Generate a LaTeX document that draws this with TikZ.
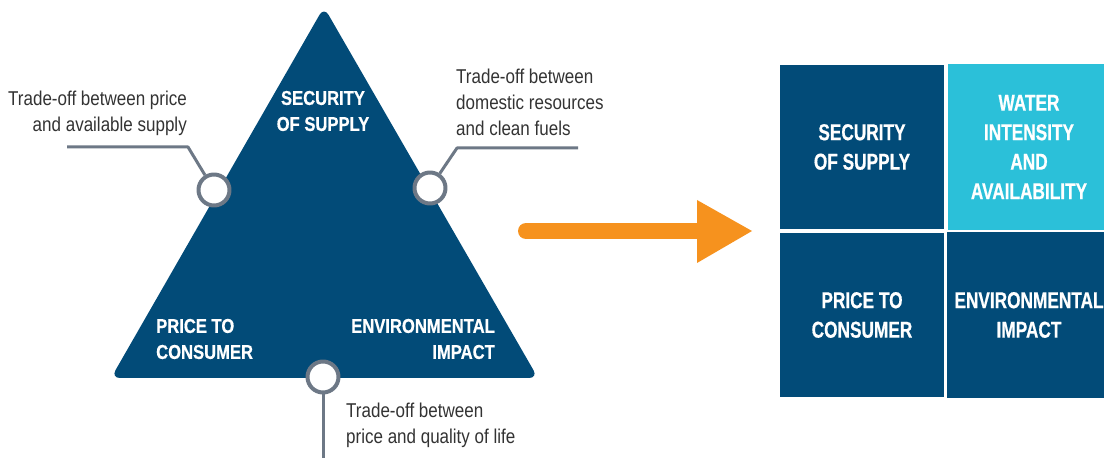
\documentclass[tikz,border=0pt]{standalone}
\usepackage{fontspec}
\setmainfont{Liberation Sans}[FakeStretch=0.85]
\newfontfamily\boldtri{Liberation Sans Bold}[FakeStretch=0.83,FakeBold=0.6]
\newfontfamily\boldbox{Liberation Sans Bold}[FakeStretch=0.75,FakeBold=0.6]
\definecolor{darkblue}{HTML}{024B78}
\definecolor{lightblue}{HTML}{2BC0D9}
\definecolor{ringgray}{HTML}{6D7886}
\definecolor{arroworange}{HTML}{F6921E}
\definecolor{labelgray}{HTML}{333333}
\tikzset{
  ring/.style={draw=ringgray,line width=4bp,fill=white,circle,minimum size=31bp,inner sep=0pt},
  leader/.style={draw=ringgray,line width=3bp},
  note/.style={text=labelgray,font=\fontsize{20bp}{26bp}\selectfont,inner sep=0pt},
  tritext/.style={text=white,font=\boldtri\fontsize{20bp}{26bp}\selectfont,inner sep=0pt},
  boxtext/.style={text=white,font=\boldbox\fontsize{23bp}{29.5bp}\selectfont,inner sep=0pt,align=center},
}
\begin{document}
\begin{tikzpicture}[>=latex,line join=bevel,]
    \useasboundingbox (0bp,0bp) rectangle (1104bp,458bp);
    %% triangle
    \fill [darkblue,rounded corners=9bp] (111bp,80bp) -- (324bp,451bp) -- (538bp,80bp) -- cycle;
    \node (sec) at (323bp,347bp) [tritext,align=center] {SECURITY\\OF SUPPLY};
    \node (pri) at (156bp,119bp) [tritext,align=left,anchor=west] {PRICE TO\\CONSUMER};
    \node (env) at (495bp,119bp) [tritext,align=right,anchor=east] {ENVIRONMENTAL\\IMPACT};
    %% trade-offs
    \coordinate (kL) at (188bp,311bp);
    \coordinate (eL) at (67bp,311bp);
    \coordinate (kR) at (457bp,310bp);
    \coordinate (eR) at (578bp,310bp);
    \coordinate (eB) at (323bp,0bp);
    \node (cL) at (214bp,268bp) [ring] {};
    \node (cR) at (430bp,270bp) [ring] {};
    \node (cB) at (323bp,81bp) [ring] {};
    \draw [leader] (cL) -- (kL) -- (eL);
    \draw [leader] (cR) -- (kR) -- (eR);
    \draw [leader] (cB) -- (eB);
    \node (tL) at (187bp,345bp) [note,align=right,anchor=east] {Trade-off between price\\and available supply};
    \node (tR) at (456bp,356bp) [note,align=left,anchor=west] {Trade-off between\\domestic resources\\and clean fuels};
    \node (tB) at (346bp,33bp) [note,align=left,anchor=west] {Trade-off between\\price and quality of life};
    %% arrow
    \coordinate (aS) at (526bp,227bp);
    \coordinate (aE) at (699bp,227bp);
    \draw [arroworange,line width=16bp,line cap=round] (aS) -- (aE);
    \fill [arroworange] (697bp,258bp) -- (752bp,227bp) -- (697bp,195bp) -- cycle;
    %% boxes
    \node (bSec) at (862bp,311bp) [fill=darkblue,minimum width=164bp,minimum height=164bp,boxtext] {SECURITY\\OF SUPPLY};
    \node (bWat) at (1029bp,311bp) [fill=lightblue,minimum width=163bp,minimum height=166bp,boxtext] {WATER\\INTENSITY\\AND\\AVAILABILITY};
    \node (bPri) at (862bp,143bp) [fill=darkblue,minimum width=164bp,minimum height=164bp,boxtext] {PRICE TO\\CONSUMER};
    \node (bEnv) at (1029bp,143bp) [fill=darkblue,minimum width=164bp,minimum height=166bp,boxtext] {ENVIRONMENTAL\\IMPACT};
    %
\end{tikzpicture}
\end{document}
